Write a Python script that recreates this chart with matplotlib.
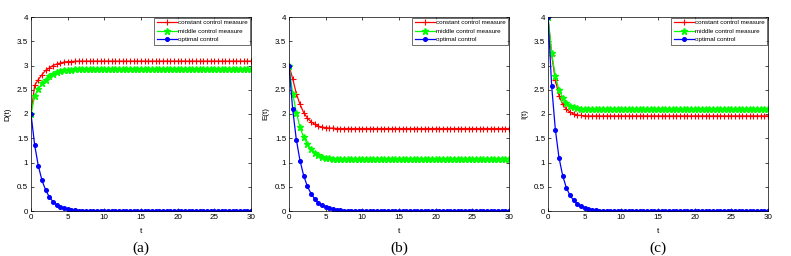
import matplotlib

matplotlib.use("Agg")

import matplotlib.pyplot as plt

# time grid (step 0.5)
t = [
    0.0, 0.5, 1.0, 1.5, 2.0, 2.5, 3.0, 3.5, 4.0, 4.5,
    5.0, 5.5, 6.0, 6.5, 7.0, 7.5, 8.0, 8.5, 9.0, 9.5,
    10.0, 10.5, 11.0, 11.5, 12.0, 12.5, 13.0, 13.5, 14.0, 14.5,
    15.0, 15.5, 16.0, 16.5, 17.0, 17.5, 18.0, 18.5, 19.0, 19.5,
    20.0, 20.5, 21.0, 21.5, 22.0, 22.5, 23.0, 23.5, 24.0, 24.5,
    25.0, 25.5, 26.0, 26.5, 27.0, 27.5, 28.0, 28.5, 29.0, 29.5,
    30.0,
]

# panel (a) D(t)
D_const = [
    2.00, 2.59, 2.71, 2.81, 2.90, 2.95, 3.00, 3.03, 3.05, 3.07,
    3.08, 3.08, 3.09, 3.09, 3.09, 3.09, 3.09, 3.09, 3.09, 3.09,
    3.09, 3.09, 3.09, 3.09, 3.09, 3.09, 3.09, 3.09, 3.09, 3.09,
    3.09, 3.09, 3.09, 3.09, 3.09, 3.09, 3.09, 3.09, 3.09, 3.09,
    3.09, 3.09, 3.09, 3.09, 3.09, 3.09, 3.09, 3.09, 3.09, 3.09,
    3.09, 3.09, 3.09, 3.09, 3.09, 3.09, 3.09, 3.09, 3.09, 3.09,
    3.09,
]
D_mid = [
    2.00, 2.37, 2.52, 2.63, 2.71, 2.78, 2.83, 2.86, 2.89, 2.90,
    2.91, 2.91, 2.92, 2.92, 2.92, 2.92, 2.92, 2.92, 2.92, 2.92,
    2.92, 2.92, 2.92, 2.92, 2.92, 2.92, 2.92, 2.92, 2.92, 2.92,
    2.92, 2.92, 2.92, 2.92, 2.92, 2.92, 2.92, 2.92, 2.92, 2.92,
    2.92, 2.92, 2.92, 2.92, 2.92, 2.92, 2.92, 2.92, 2.92, 2.92,
    2.92, 2.92, 2.92, 2.92, 2.92, 2.92, 2.92, 2.92, 2.92, 2.92,
    2.92,
]
D_opt = [
    2.00, 1.36, 0.93, 0.63, 0.43, 0.29, 0.19, 0.13, 0.09, 0.06,
    0.04, 0.03, 0.02, 0.01, 0.01, 0.01, 0.00, 0.00, 0.00, 0.00,
    0.00, 0.00, 0.00, 0.00, 0.00, 0.00, 0.00, 0.00, 0.00, 0.00,
    0.00, 0.00, 0.00, 0.00, 0.00, 0.00, 0.00, 0.00, 0.00, 0.00,
    0.00, 0.00, 0.00, 0.00, 0.00, 0.00, 0.00, 0.00, 0.00, 0.00,
    0.00, 0.00, 0.00, 0.00, 0.00, 0.00, 0.00, 0.00, 0.00, 0.00,
    0.00,
]

# panel (b) E(t)
E_const = [
    3.00, 2.73, 2.42, 2.20, 2.03, 1.92, 1.84, 1.79, 1.75, 1.73,
    1.72, 1.71, 1.71, 1.70, 1.70, 1.70, 1.70, 1.70, 1.70, 1.70,
    1.70, 1.70, 1.70, 1.70, 1.70, 1.70, 1.70, 1.70, 1.70, 1.70,
    1.70, 1.70, 1.70, 1.70, 1.70, 1.70, 1.70, 1.70, 1.70, 1.70,
    1.70, 1.70, 1.70, 1.70, 1.70, 1.70, 1.70, 1.70, 1.70, 1.70,
    1.70, 1.70, 1.70, 1.70, 1.70, 1.70, 1.70, 1.70, 1.70, 1.70,
    1.70,
]
E_mid = [
    3.00, 2.42, 2.03, 1.73, 1.52, 1.38, 1.28, 1.20, 1.15, 1.12,
    1.10, 1.09, 1.08, 1.08, 1.07, 1.07, 1.07, 1.07, 1.07, 1.07,
    1.07, 1.07, 1.07, 1.07, 1.07, 1.07, 1.07, 1.07, 1.07, 1.07,
    1.07, 1.07, 1.07, 1.07, 1.07, 1.07, 1.07, 1.07, 1.07, 1.07,
    1.07, 1.07, 1.07, 1.07, 1.07, 1.07, 1.07, 1.07, 1.07, 1.07,
    1.07, 1.07, 1.07, 1.07, 1.07, 1.07, 1.07, 1.07, 1.07, 1.07,
    1.07,
]
E_opt = [
    3.00, 2.10, 1.47, 1.04, 0.73, 0.51, 0.36, 0.25, 0.17, 0.12,
    0.08, 0.06, 0.04, 0.03, 0.02, 0.01, 0.01, 0.01, 0.00, 0.00,
    0.00, 0.00, 0.00, 0.00, 0.00, 0.00, 0.00, 0.00, 0.00, 0.00,
    0.00, 0.00, 0.00, 0.00, 0.00, 0.00, 0.00, 0.00, 0.00, 0.00,
    0.00, 0.00, 0.00, 0.00, 0.00, 0.00, 0.00, 0.00, 0.00, 0.00,
    0.00, 0.00, 0.00, 0.00, 0.00, 0.00, 0.00, 0.00, 0.00, 0.00,
    0.00,
]

# panel (c) I(t)
I_const = [
    4.00, 3.22, 2.70, 2.38, 2.20, 2.10, 2.04, 2.00, 1.98, 1.97,
    1.96, 1.96, 1.96, 1.96, 1.96, 1.96, 1.96, 1.96, 1.96, 1.96,
    1.96, 1.96, 1.96, 1.96, 1.96, 1.96, 1.96, 1.96, 1.96, 1.96,
    1.96, 1.96, 1.96, 1.96, 1.96, 1.96, 1.96, 1.96, 1.96, 1.96,
    1.96, 1.96, 1.96, 1.96, 1.96, 1.96, 1.96, 1.96, 1.96, 1.96,
    1.96, 1.96, 1.96, 1.96, 1.96, 1.96, 1.96, 1.96, 1.96, 1.96,
    1.96,
]
I_mid = [
    4.00, 3.26, 2.78, 2.50, 2.33, 2.23, 2.17, 2.14, 2.12, 2.11,
    2.10, 2.10, 2.10, 2.10, 2.10, 2.10, 2.10, 2.10, 2.10, 2.10,
    2.10, 2.10, 2.10, 2.10, 2.10, 2.10, 2.10, 2.10, 2.10, 2.10,
    2.10, 2.10, 2.10, 2.10, 2.10, 2.10, 2.10, 2.10, 2.10, 2.10,
    2.10, 2.10, 2.10, 2.10, 2.10, 2.10, 2.10, 2.10, 2.10, 2.10,
    2.10, 2.10, 2.10, 2.10, 2.10, 2.10, 2.10, 2.10, 2.10, 2.10,
    2.10,
]
I_opt = [
    4.00, 2.58, 1.68, 1.10, 0.73, 0.48, 0.32, 0.22, 0.15, 0.10,
    0.07, 0.05, 0.03, 0.02, 0.01, 0.01, 0.01, 0.00, 0.00, 0.00,
    0.00, 0.00, 0.00, 0.00, 0.00, 0.00, 0.00, 0.00, 0.00, 0.00,
    0.00, 0.00, 0.00, 0.00, 0.00, 0.00, 0.00, 0.00, 0.00, 0.00,
    0.00, 0.00, 0.00, 0.00, 0.00, 0.00, 0.00, 0.00, 0.00, 0.00,
    0.00, 0.00, 0.00, 0.00, 0.00, 0.00, 0.00, 0.00, 0.00, 0.00,
    0.00,
]

panels = [
    ("D(t)", "(a)", D_const, D_mid, D_opt),
    ("E(t)", "(b)", E_const, E_mid, E_opt),
    ("I(t)", "(c)", I_const, I_mid, I_opt),
]
lefts = [31, 289, 548]

plt.rcParams["font.family"] = ["Liberation Sans", "DejaVu Sans"]

W, H = 791, 256
fig = plt.figure(figsize=(W / 100, H / 100), dpi=100)

for left, (ylab, tag, c_vals, m_vals, o_vals) in zip(lefts, panels):
    ax = fig.add_axes([left / W, 45 / H, 220 / W, 194 / H])
    ax.plot(t, c_vals, color="#ff0000", marker="+", markersize=4.5,
            markeredgewidth=0.8, linewidth=0.9, label="constant control measure")
    ax.plot(t, m_vals, color="#00ff00", marker="*", markersize=5,
            linewidth=0.9, label="middle control measure")
    ax.plot(t, o_vals, color="#0000ff", marker="o", markersize=2.6,
            linewidth=0.9, label="optimal control")

    ax.set_xlim(0, 30)
    ax.set_ylim(0, 4)
    ax.set_xticks([0, 5, 10, 15, 20, 25, 30])
    ax.set_yticks([0, 0.5, 1, 1.5, 2, 2.5, 3, 3.5, 4])
    ax.set_yticklabels(["0", "0.5", "1", "1.5", "2", "2.5", "3", "3.5", "4"])
    ax.tick_params(direction="in", length=2, width=0.5, labelsize=5.8,
                   top=True, right=True, pad=2)
    for sp in ax.spines.values():
        sp.set_linewidth(0.5)
    ax.set_ylabel(ylab, fontsize=5.8, labelpad=4)
    ax.set_xlabel("t", fontsize=6, labelpad=5)

    leg = ax.legend(loc="upper right", fontsize=4.5, frameon=True, fancybox=False,
                    borderaxespad=0.1, handlelength=3.2, handletextpad=0.25,
                    labelspacing=0.5, borderpad=0.4)
    leg.get_frame().set_edgecolor("black")
    leg.get_frame().set_linewidth(0.5)

    ax.text(0.5, -0.155, tag, transform=ax.transAxes, ha="center", va="top",
            fontsize=11, family=["Liberation Serif", "DejaVu Serif"])

fig.savefig("out.png", dpi=100, facecolor="white")
